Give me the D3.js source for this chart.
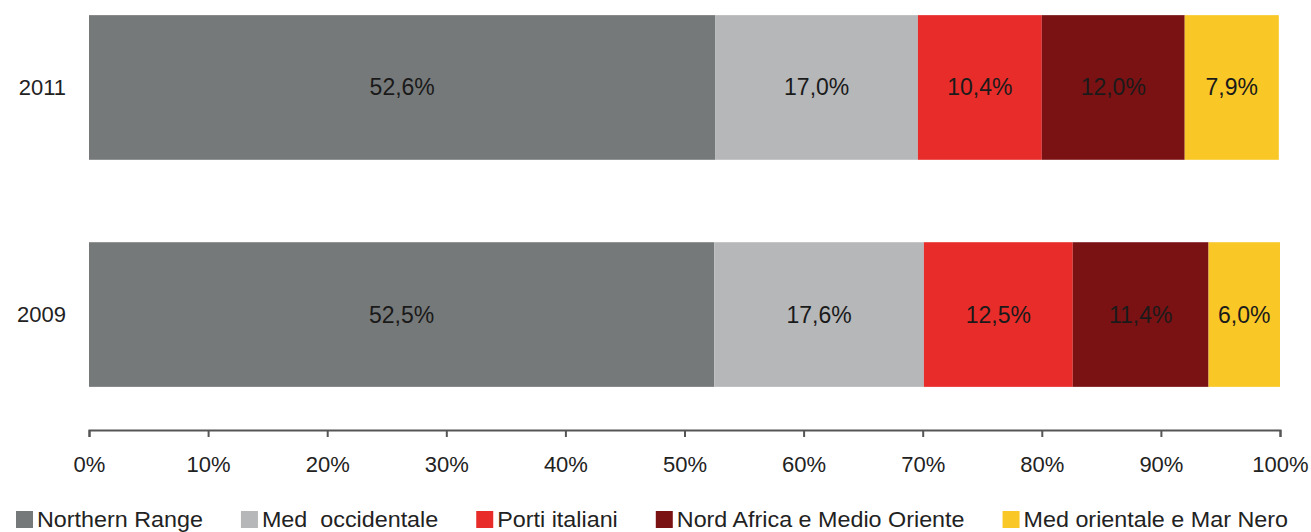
<!DOCTYPE html>
<meta charset="utf-8">
<head>
    <meta charset="UTF-8">
    <title>Quote di traffico per area</title>
    <style>
      body { margin: 0; background: #fff; }
      text { font-family: "Liberation Sans", Arial, sans-serif; }
    </style>
</head>
<body>
<script src="https://d3js.org/d3.v7.min.js"></script>
<div id="chart"></div>
<script>

    // data
    const years = ["2011", "2009"]
    const series = ["Northern Range", "Med  occidentale", "Porti italiani", "Nord Africa e Medio Oriente", "Med orientale e Mar Nero"]
    const values2011 = [52.6, 17.0, 10.4, 12.0, 7.9]
    const values2009 = [52.5, 17.6, 12.5, 11.4, 6.0]
    const colors = ["#767979", "#b6b7b9", "#e82c2a", "#7a1214", "#f9c827"]
    const tickValues = [0, 10, 20, 30, 40, 50, 60, 70, 80, 90, 100]

    const width = 1311, height = 532

    const svg = d3.select("#chart")
      .append("svg")
        .attr("width", width)
        .attr("height", height)

    // scales
    const x = d3.scaleLinear()
      .domain([0, 100])
      .range([89, 1280])

    const y = d3.scaleBand()
      .domain(years)
      .range([-28, 430])
      .paddingInner(0.363)
      .paddingOuter(0.19)

    const color = d3.scaleOrdinal()
      .domain(series)
      .range(colors)

    // build rows for stacking
    const rows = [values2011, values2009].map((vals, i) => {
      const row = {year: years[i]}
      series.forEach((s, j) => row[s] = vals[j])
      return row
    })
    const stacked = d3.stack().keys(series)(rows)

    // bars
    const layers = svg.append("g")
      .selectAll("g")
      .data(stacked)
      .join("g")
        .attr("fill", d => color(d.key))

    layers.selectAll("rect")
      .data(d => d)
      .join("rect")
        .attr("x", d => x(d[0]))
        .attr("y", d => y(d.data.year))
        .attr("width", d => x(Math.min(d[1], 100)) - x(d[0]))
        .attr("height", y.bandwidth())

    // value labels
    layers.selectAll("text")
      .data(d => d)
      .join("text")
        .attr("x", d => (x(d[0]) + x(Math.min(d[1], 100))) / 2)
        .attr("y", d => y(d.data.year) + y.bandwidth() / 2 + 8)
        .attr("text-anchor", "middle")
        .style("font-size", "23px")
        .style("fill", "#1a1a1a")
        .text(d => d3.format(".1f")(d[1] - d[0]).replace(".", ",") + "%")

    // x axis
    const xAxis = svg.append("g")
      .attr("transform", "translate(0,430)")
      .call(d3.axisBottom(x).tickValues(tickValues).tickSize(7).tickSizeOuter(7)
        .tickFormat(d => d + "%"))
    xAxis.select(".domain").attr("stroke", "#555").attr("stroke-width", 2)
    xAxis.selectAll(".tick line").attr("stroke", "#555").attr("stroke-width", 2)
    xAxis.selectAll(".tick text")
      .attr("y", 42)
      .attr("dy", 0)
      .style("font-size", "22px")
      .style("fill", "#222")

    // y labels
    const yAxis = svg.append("g")
      .attr("transform", "translate(89,0)")
      .call(d3.axisLeft(y).tickSize(0).tickPadding(23))
    yAxis.select(".domain").remove()
    yAxis.selectAll(".tick text")
      .style("font-size", "22px")
      .style("fill", "#222")

    // legend (text a bit stretched like the original)
    const legend = svg.append("g")
    let lx = 16
    series.forEach(s => {
      const item = legend.append("g").attr("transform", `translate(${lx},0)`)
      item.append("rect")
        .attr("x", 0)
        .attr("y", 511)
        .attr("width", 17)
        .attr("height", 17)
        .attr("fill", color(s))
      const t = item.append("text")
        .attr("x", 21)
        .attr("y", 527)
        .attr("xml:space", "preserve")
        .style("white-space", "pre")
        .style("font-size", "22px")
        .style("fill", "#222")
        .text(s)
      const w = t.node().getComputedTextLength() * 1.06
      t.attr("textLength", w).attr("lengthAdjust", "spacingAndGlyphs")
      lx += 21 + w + 38
    })
</script>
</body>
